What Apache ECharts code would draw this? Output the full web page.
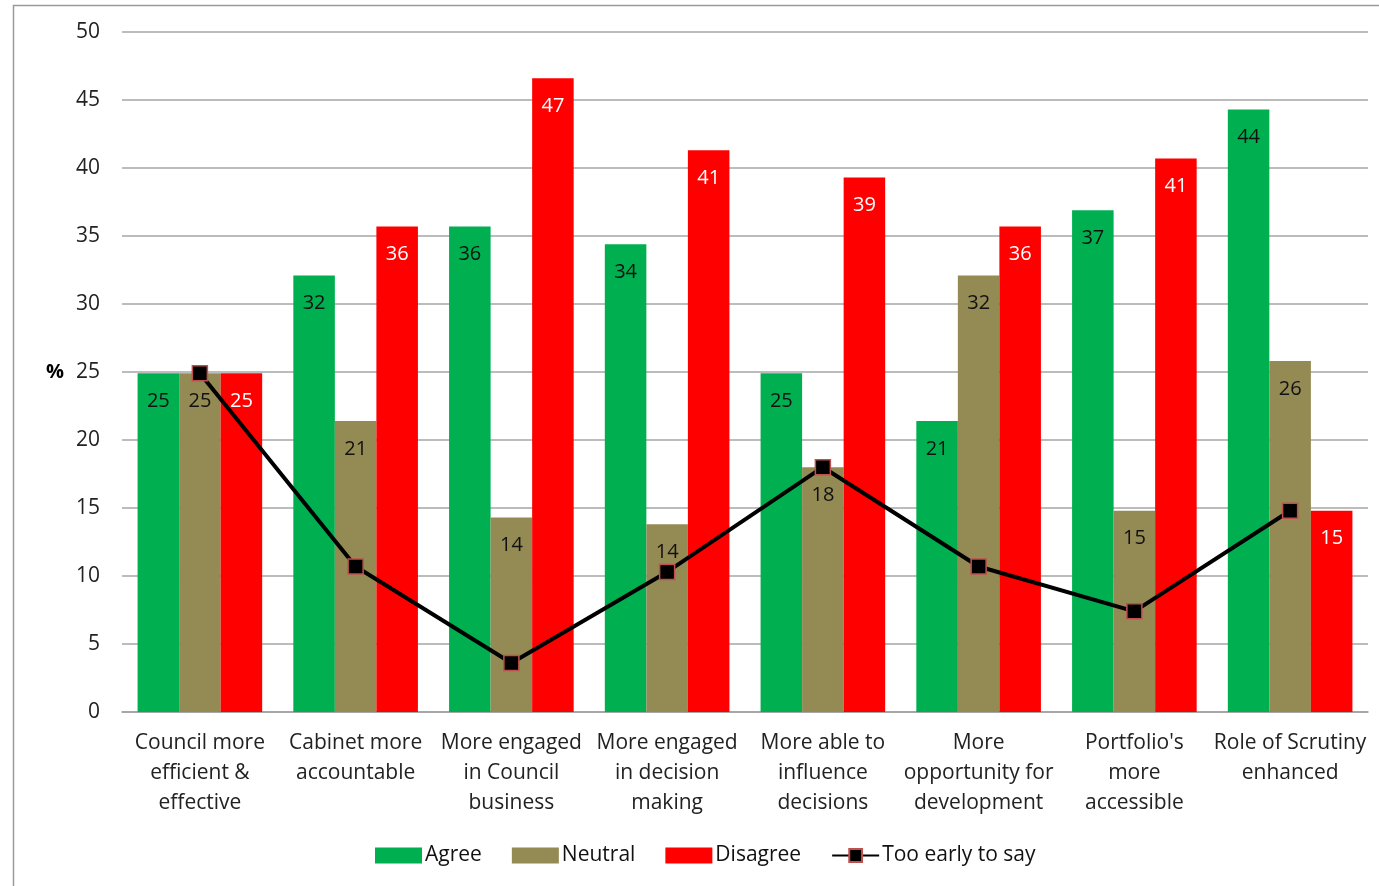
<!DOCTYPE html>
<html>
<head>
<meta charset="utf-8">
<title>Survey results</title>
<script src="https://cdn.jsdelivr.net/npm/echarts@6/dist/echarts.min.js"></script>
<style>
  html, body { margin: 0; padding: 0; background: #fff; }
  #chart { width: 1379px; height: 886px; }
</style>
</head>
<body>
<div id="chart"></div>
<script>
// categories (x axis)
const categories = [
  'Council more\nefficient &\neffective',
  'Cabinet more\naccountable',
  'More engaged\nin Council\nbusiness',
  'More engaged\nin decision\nmaking',
  'More able to\ninfluence\ndecisions',
  'More\nopportunity for\ndevelopment',
  "Portfolio's\nmore\naccessible",
  'Role of Scrutiny\nenhanced'
]

// series values (%)
const agree = [24.9, 32.1, 35.7, 34.4, 24.9, 21.4, 36.9, 44.3]
const neutral = [24.9, 21.4, 14.3, 13.8, 18.0, 32.1, 14.8, 25.8]
const disagree = [24.9, 35.7, 46.6, 41.3, 39.3, 35.7, 40.7, 14.8]
const tooEarly = [24.9, 10.7, 3.6, 10.3, 18.0, 10.7, 7.4, 14.8]

const fontFamily = 'Open Sans, Lato, sans-serif'

const barLabel = (color) => ({
  show: true,
  position: 'insideTop',
  distance: 18,
  color: color,
  fontSize: 20,
  fontFamily: fontFamily,
  formatter: (p) => Math.round(p.value)
})

const chart = echarts.init(document.getElementById('chart'))

chart.setOption({
  animation: false,
  backgroundColor: '#fff',
  graphic: [
    {
      type: 'rect',
      shape: { x: 13.5, y: 5.5, width: 1420, height: 920 },
      style: { fill: 'none', stroke: '#9a9a9a', lineWidth: 1.5 },
      silent: true
    },
    {
      type: 'text',
      left: 46,
      top: 362,
      style: { text: '%', fontSize: 20, fontWeight: 'bold', fill: '#000', fontFamily: fontFamily }
    }
  ],
  grid: {
    left: 122,
    right: 11,
    top: 32,
    bottom: 174
  },
  legend: {
    bottom: 15,
    left: 370,
    itemWidth: 47,
    itemHeight: 16,
    itemGap: 30,
    textStyle: { fontSize: 21, color: '#111', fontFamily: fontFamily, padding: [0, 0, 0, -2] },
    data: [
      { name: 'Agree', icon: 'rect' },
      { name: 'Neutral', icon: 'rect' },
      { name: 'Disagree', icon: 'rect' },
      { name: 'Too early to say' }
    ]
  },
  xAxis: {
    type: 'category',
    data: categories,
    axisTick: { show: false },
    axisLine: { lineStyle: { color: '#a0a0a0', width: 1.5 } },
    axisLabel: {
      interval: 0,
      fontSize: 21,
      lineHeight: 30,
      color: '#222',
      margin: 16,
      fontFamily: fontFamily
    }
  },
  yAxis: {
    type: 'value',
    min: 0,
    max: 50,
    interval: 5,
    axisLine: { show: false },
    axisTick: { show: false },
    splitLine: { lineStyle: { color: '#a6a6a6', width: 1.5 } },
    axisLabel: { fontSize: 21, color: '#222', margin: 22, fontFamily: fontFamily }
  },
  series: [
    {
      name: 'Agree',
      type: 'bar',
      data: agree,
      barGap: '0%',
      barCategoryGap: '20%',
      itemStyle: { color: '#00b050' },
      label: barLabel('#111')
    },
    {
      name: 'Neutral',
      type: 'bar',
      data: neutral,
      itemStyle: { color: '#948a54' },
      label: barLabel('#111')
    },
    {
      name: 'Disagree',
      type: 'bar',
      data: disagree,
      itemStyle: { color: '#ff0000' },
      label: barLabel('#fff')
    },
    {
      name: 'Too early to say',
      type: 'line',
      data: tooEarly,
      symbol: 'rect',
      symbolSize: 15,
      z: 5,
      lineStyle: { color: '#000', width: 4 },
      itemStyle: { color: '#000', borderColor: '#c0504d', borderWidth: 1.5 }
    }
  ]
})
</script>
</body>
</html>
